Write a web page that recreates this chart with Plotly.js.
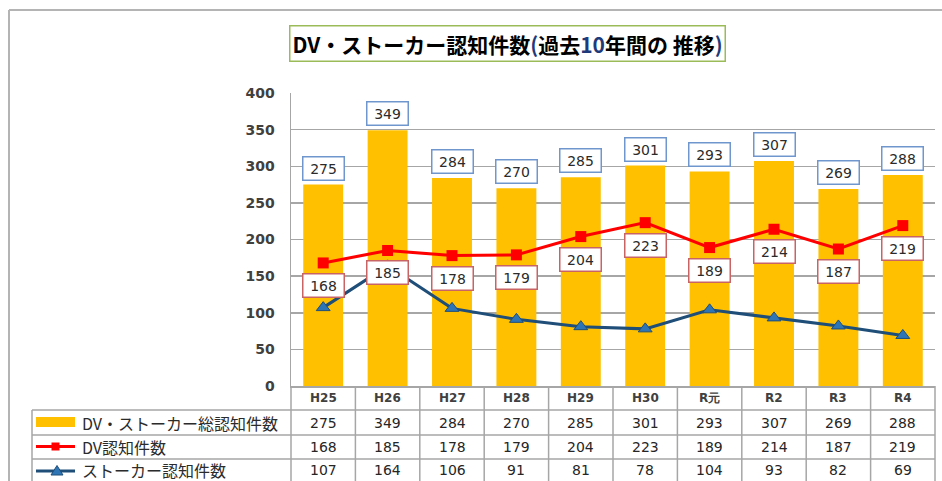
<!DOCTYPE html>
<html><head><meta charset="utf-8">
<script src="https://cdn.plot.ly/plotly-3.0.1.min.js"></script>
<style>html,body{margin:0;padding:0;background:#fff}#chart{width:942px;height:481px}</style>
</head><body><div id="chart"></div>
<script>
const categories = ['H25','H26','H27','H28','H29','H30','R元','R2','R3','R4'];
const totalCounts = [275,349,284,270,285,301,293,307,269,288];
const dvCounts = [168,185,178,179,204,223,189,214,187,219];
const stalkerCounts = [107,164,106,91,81,78,104,93,82,69];
const seriesNames = ['DV・ストーカー総認知件数','DV認知件数','ストーカー認知件数'];
const yTicks = [0,50,100,150,200,250,300,350,400];
const titleParts = ['DV・ストーカー認知件数', '(', '過去', '10', '年間の 推移', ')'];

const W=942, H=481, L=291, R=7, T=93, B=95;
const pw=W-L-R, ph=H-T-B;
const px = p => (p-L)/pw;
const py = p => (H-B-p)/ph;

const GOLD='#FFC000', RED='#FF0000', NAVY='#1F4E79', TRI='#2E75B6', GRID='#A6A6A6';
const NUMFONT='DejaVu Sans, Verdana, sans-serif';
const JPFONT='Noto Sans CJK JP, sans-serif';
const rowY = [422.5, 447, 470];

const traces = [
  {type:'bar', x:categories, y:totalCounts, name:seriesNames[0], marker:{color:GOLD}, hoverinfo:'skip'},
  {type:'scatter', mode:'lines+markers', x:categories, y:dvCounts, name:seriesNames[1],
   line:{color:RED, width:3}, marker:{symbol:'square', size:11, color:RED}, cliponaxis:false},
  {type:'scatter', mode:'lines+markers', x:categories, y:stalkerCounts, name:seriesNames[2],
   line:{color:NAVY, width:3}, marker:{symbol:'triangle-up', size:12, color:TRI, line:{color:NAVY, width:1}}, cliponaxis:false}
];

const ann = [];
const blue = c => '<span style="color:#1F3A7A">'+c+'</span>';
ann.push({xref:'paper', yref:'paper', x:px(507), y:py(43.5), xanchor:'center', yanchor:'middle', showarrow:false,
  text:'<b>'+titleParts[0]+blue(titleParts[1])+titleParts[2]+blue(titleParts[3])+titleParts[4]+blue(titleParts[5])+'</b>',
  font:{family:JPFONT, size:21, color:'#000'}, bordercolor:'#9BBB59', borderwidth:1.5, borderpad:2, bgcolor:'#fff'});

categories.forEach((c,i)=>{
  ann.push({x:c, y:totalCounts[i], xref:'x', yref:'y', yanchor:'bottom', yshift:4, showarrow:false,
    text:String(totalCounts[i]), font:{family:NUMFONT, size:14, color:'#2b2b2b'},
    bgcolor:'#fff', bordercolor:'#7096CE', borderwidth:1.5, borderpad:2, width:36, height:18});
  ann.push({x:c, y:dvCounts[i], xref:'x', yref:'y', yanchor:'top', yshift:-10, showarrow:false,
    text:String(dvCounts[i]), font:{family:NUMFONT, size:14, color:'#2b2b2b'},
    bgcolor:'#fff', bordercolor:'#C86464', borderwidth:1.5, borderpad:2, width:36, height:18});
  ann.push({x:c, xref:'x', yref:'paper', y:py(398), yanchor:'middle', showarrow:false,
    text:'<b>'+c+'</b>', font:{family:NUMFONT, size:12, color:'#404040'}});
  [totalCounts, dvCounts, stalkerCounts].forEach((arr,r)=>{
    ann.push({x:c, xref:'x', yref:'paper', y:py(rowY[r]), yanchor:'middle', showarrow:false,
      text:String(arr[i]), font:{family:NUMFONT, size:14, color:'#262626'}});
  });
});
seriesNames.forEach((n,r)=>{
  ann.push({xref:'paper', yref:'paper', x:px(80), y:py(rowY[r]), xanchor:'left', yanchor:'middle',
    showarrow:false, text:n, font:{family:JPFONT, size:16, color:'#2b2b2b'}});
});

const shapes = [];
const lineP = (x0,y0,x1,y1,color,w)=>({type:'line', xref:'paper', yref:'paper', x0:px(x0), y0:py(y0), x1:px(x1), y1:py(y1), line:{color:color||GRID, width:w||1.5}, layer:'above'});
shapes.push(lineP(9,10,942,10,'#B4B4B4',2));
shapes.push(lineP(9,10,9,485,'#B4B4B4',2));
[410,435,459].forEach(y=>shapes.push(lineP(32,y,L+pw,y)));
shapes.push(lineP(32,410,32,485));
shapes.push(lineP(L,386,L,485));
shapes.push(lineP(L+pw,386,L+pw,485));
for(let i=1;i<categories.length;i++){
  shapes.push({type:'line', xref:'x', yref:'paper', x0:i-0.5, x1:i-0.5, y0:0, y1:py(485), line:{color:GRID, width:1.5}, layer:'above'});
}
shapes.push({type:'rect', xref:'paper', yref:'paper', x0:px(36), x1:px(75), y0:py(417), y1:py(427), fillcolor:GOLD, line:{width:0}});
shapes.push(lineP(36,446.5,75,446.5,RED,3));
shapes.push({type:'rect', xref:'paper', yref:'paper', x0:px(51.5), x1:px(59.5), y0:py(442.5), y1:py(450.5), fillcolor:RED, line:{width:0}});
shapes.push(lineP(36,471,75,471,NAVY,3));
shapes.push({type:'path', xref:'paper', yref:'paper', path:`M ${px(51)} ${py(475)} L ${px(63)} ${py(475)} L ${px(57)} ${py(465.5)} Z`, fillcolor:TRI, line:{color:NAVY, width:1}});

const layout = {
  width:W, height:H, margin:{l:L, r:R, t:T, b:B}, paper_bgcolor:'#fff', plot_bgcolor:'#fff',
  showlegend:false, bargap:0.38,
  xaxis:{type:'category', range:[-0.5, categories.length-0.5], showticklabels:false, ticks:'', showgrid:false, showline:true, linecolor:GRID, linewidth:1.5, fixedrange:true},
  yaxis:{range:[0,400], tickvals:yTicks, ticktext:yTicks.map(String), showgrid:true, gridcolor:GRID, gridwidth:1.5,
    zeroline:false, showline:true, linecolor:GRID, linewidth:1.5, ticks:'', ticklabelstandoff:12,
    tickfont:{family:NUMFONT, size:14, color:'#404040', weight:'bold'}, fixedrange:true},
  annotations:ann, shapes:shapes
};
Plotly.newPlot('chart', traces, layout, {staticPlot:true});
</script></body></html>
